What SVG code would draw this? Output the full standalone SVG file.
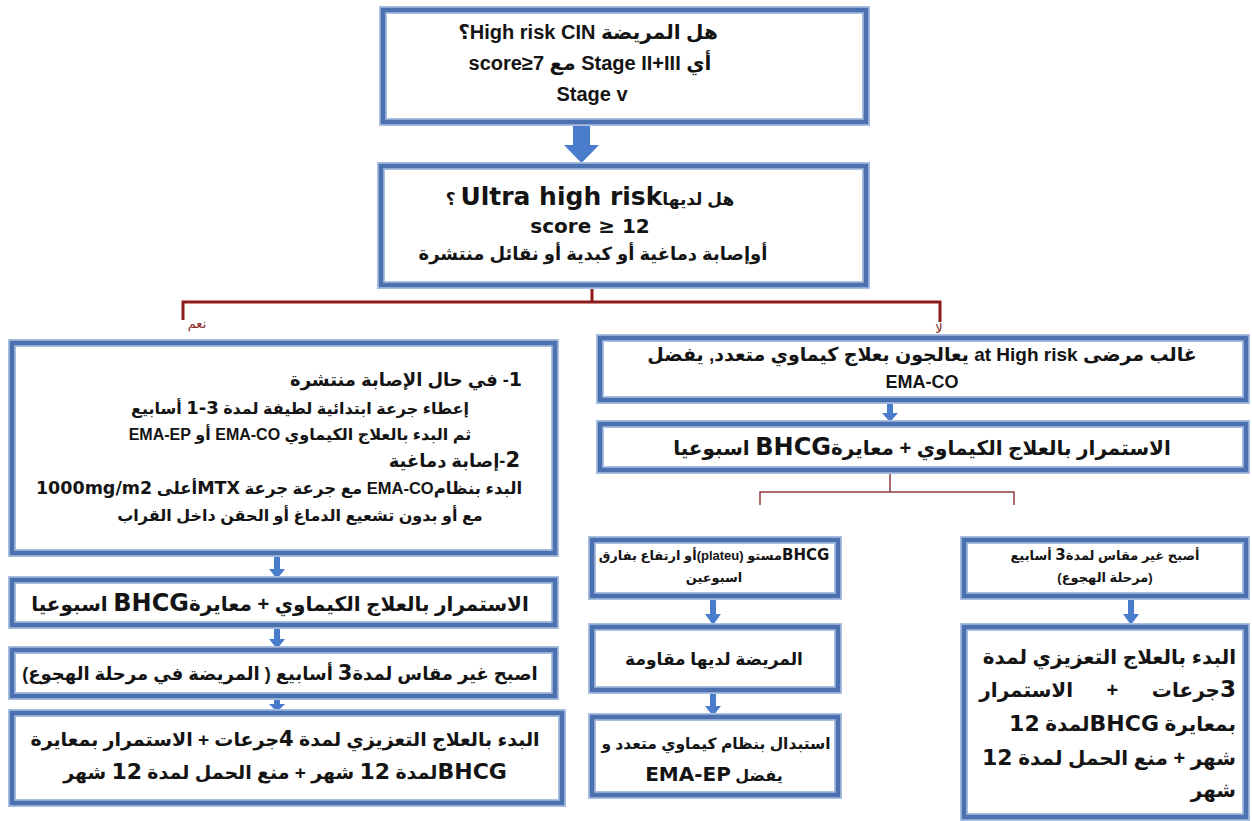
<svg xmlns="http://www.w3.org/2000/svg" width="1252" height="821" viewBox="0 0 1252 821">
  <defs>
    <style>
      .frame-out { fill: #ffffff; stroke: #a9bee0; stroke-width: 8; }
      .frame-in { fill: none; stroke: #4b71b1; stroke-width: 4.5; }
      .t { font-family: "Liberation Sans", "DejaVu Sans", sans-serif; font-weight: bold; fill: #141414; }
      .blk { font-family: "DejaVu Sans", "Liberation Sans", sans-serif; font-weight: bold; }
      .lab { font-family: "DejaVu Sans", "Liberation Sans", sans-serif; fill: #8b2a2a; font-size: 13px; }
      .arrow { fill: #4a7ccc; }
      .red { stroke: #8e1b1b; stroke-width: 3; fill: none; }
      .thin { stroke: #8e3c3c; stroke-width: 1.5; fill: none; }
    </style>
  </defs>
  <rect width="1252" height="821" fill="#ffffff"/>

  <!-- connectors: block arrows and branch lines -->
  <g id="connectors">
    <polygon class="arrow" points="573,124 590,124 590,145 599,145 581.5,163 564,145 573,145"/>
    <polyline class="red" points="592,285 592,302"/>
    <polyline class="red" points="183,320 183,302 940,302 940,322"/>
    <polygon class="arrow" points="274,556 280,556 280,569 285,569 277,579 269,569 274,569"/>
    <polygon class="arrow" points="274,627 280,627 280,639 285,639 277,649 269,639 274,639"/>
    <polygon class="arrow" points="274,697 280,697 280,704 285,704 277,712 269,704 274,704"/>
    <polygon class="arrow" points="887,402 893,402 893,413 898,413 890,422 882,413 887,413"/>
    <polyline class="thin" points="890,470 890,492"/>
    <polyline class="thin" points="760,505 760,492 1014,492 1014,505"/>
    <polygon class="arrow" points="710,598 716,598 716,614 721,614 713,625 705,614 710,614"/>
    <polygon class="arrow" points="1128,598 1134,598 1134,614 1139,614 1131,625 1123,614 1128,614"/>
    <polygon class="arrow" points="710,692 716,692 716,706 721,706 713,716 705,706 710,706"/>
    <text class="lab" x="197" y="328" text-anchor="middle" direction="rtl">نعم</text>
    <text class="lab" x="939" y="333" text-anchor="middle" direction="rtl">لا</text>
  </g>

  <!-- question: high risk -->
  <g id="q-high-risk">
    <rect class="frame-out" x="383" y="10" width="483" height="112"/>
    <rect class="frame-in" x="383" y="10" width="483" height="112"/>
    <text class="t" x="588" y="39" font-size="20" text-anchor="middle" direction="rtl">هل المريضة High risk CIN؟</text>
    <text class="t" x="590" y="70" font-size="20" text-anchor="middle" direction="rtl">أي   Stage II+III مع score≥7</text>
    <text class="t" x="592" y="101" font-size="20" text-anchor="middle">Stage v</text>
  </g>

  <!-- question: ultra high risk -->
  <g id="q-ultra-high-risk">
    <rect class="frame-out" x="381" y="166" width="485" height="119"/>
    <rect class="frame-in" x="381" y="166" width="485" height="119"/>
    <text class="t" x="590" y="205" font-size="17" text-anchor="middle" direction="rtl">هل لديها<tspan class="blk" font-size="25">Ultra high risk</tspan> ؟</text>
    <text class="t blk" x="590" y="233" font-size="20" text-anchor="middle">score ≥ 12</text>
    <text class="t" x="593" y="260" font-size="18" text-anchor="middle" direction="rtl">أوإصابة دماغية أو كبدية أو نقائل منتشرة</text>
  </g>

  <!-- yes branch -->
  <g id="yes-metastatic">
    <rect class="frame-out" x="12" y="343" width="543" height="210"/>
    <rect class="frame-in" x="12" y="343" width="543" height="210"/>
    <text class="t" x="522" y="386" font-size="18" text-anchor="start" direction="rtl"><tspan class="blk" font-size="19">1</tspan>- في حال الإصابة منتشرة</text>
    <text class="t" x="300" y="414" font-size="16" text-anchor="middle" direction="rtl">إعطاء جرعة ابتدائية لطيفة لمدة <tspan class="blk" font-size="18">3-1</tspan> أسابيع</text>
    <text class="t" x="300" y="440" font-size="16" text-anchor="middle" direction="rtl">ثم البدء بالعلاج الكيماوي EMA-CO  أو EMA-EP</text>
    <text class="t" x="520" y="467" font-size="18" text-anchor="start" direction="rtl"><tspan class="blk" font-size="21">2</tspan>-إصابة دماغية</text>
    <text class="t" x="279" y="494" font-size="16.5" text-anchor="middle" direction="rtl">البدء بنظامEMA-CO  مع جرعة جرعة <tspan class="blk" font-size="17.5">MTX</tspan>أعلى <tspan class="blk" font-size="17.5">1000mg/m2</tspan></text>
    <text class="t" x="300" y="521" font-size="16" text-anchor="middle" direction="rtl">مع أو بدون تشعيع الدماغ أو الحقن داخل القراب</text>
  </g>

  <g id="yes-continue">
    <rect class="frame-out" x="12" y="580" width="543" height="45"/>
    <rect class="frame-in" x="12" y="580" width="543" height="45"/>
    <text class="t" x="280" y="611" font-size="20" text-anchor="middle" direction="rtl">الاستمرار بالعلاج الكيماوي + معايرة<tspan class="blk" font-size="24">BHCG</tspan> اسبوعيا</text>
  </g>

  <g id="yes-remission">
    <rect class="frame-out" x="12" y="650" width="543" height="46"/>
    <rect class="frame-in" x="12" y="650" width="543" height="46"/>
    <text class="t" x="280" y="680" font-size="18" text-anchor="middle" direction="rtl">اصبح غير مقاس لمدة<tspan class="blk" font-size="21">3</tspan>  أسابيع ( المريضة في مرحلة الهجوع)</text>
  </g>

  <g id="yes-consolidation">
    <rect class="frame-out" x="12" y="713" width="550" height="90"/>
    <rect class="frame-in" x="12" y="713" width="550" height="90"/>
    <text class="t" x="285" y="746" font-size="19" text-anchor="middle" direction="rtl">البدء بالعلاج التعزيزي لمدة <tspan class="blk" font-size="21">4</tspan>جرعات + الاستمرار بمعايرة</text>
    <text class="t" x="285" y="779" font-size="19" text-anchor="middle" direction="rtl"><tspan class="blk" font-size="22">BHCG</tspan>لمدة <tspan class="blk" font-size="22">12</tspan> شهر + منع الحمل لمدة <tspan class="blk" font-size="22">12</tspan> شهر</text>
  </g>

  <!-- no branch -->
  <g id="no-polychemo">
    <rect class="frame-out" x="600" y="338" width="646" height="62"/>
    <rect class="frame-in" x="600" y="338" width="646" height="62"/>
    <text class="t" x="922" y="361" font-size="19" text-anchor="middle" direction="rtl">غالب مرضى at High risk يعالجون بعلاج كيماوي متعدد, يفضل</text>
    <text class="t" x="922" y="388" font-size="18" text-anchor="middle">EMA-CO</text>
  </g>

  <g id="no-continue">
    <rect class="frame-out" x="600" y="424" width="646" height="46"/>
    <rect class="frame-in" x="600" y="424" width="646" height="46"/>
    <text class="t" x="922" y="455" font-size="20" text-anchor="middle" direction="rtl">الاستمرار بالعلاج الكيماوي + معايرة<tspan class="blk" font-size="24">BHCG</tspan> اسبوعيا</text>
  </g>

  <g id="no-plateau">
    <rect class="frame-out" x="592" y="540" width="246" height="56"/>
    <rect class="frame-in" x="592" y="540" width="246" height="56"/>
    <text class="t" x="714" y="560" font-size="13" text-anchor="middle" direction="rtl"><tspan class="blk" font-size="15">BHCG</tspan>مستو (plateu)أو ارتفاع بفارق</text>
    <text class="t" x="714" y="582" font-size="13" text-anchor="middle" direction="rtl">اسبوعين</text>
  </g>

  <g id="no-resistance">
    <rect class="frame-out" x="592" y="627" width="246" height="63"/>
    <rect class="frame-in" x="592" y="627" width="246" height="63"/>
    <text class="t" x="714" y="665" font-size="17" text-anchor="middle" direction="rtl">المريضة لديها مقاومة</text>
  </g>

  <g id="no-switch">
    <rect class="frame-out" x="592" y="717" width="246" height="78"/>
    <rect class="frame-in" x="592" y="717" width="246" height="78"/>
    <text class="t" x="716" y="749" font-size="15.5" text-anchor="middle" direction="rtl">استبدال بنظام كيماوي متعدد و</text>
    <text class="t" x="714" y="781" font-size="16" text-anchor="middle" direction="rtl">يفضل  <tspan class="blk" font-size="20">EMA-EP</tspan></text>
  </g>

  <g id="no-remission">
    <rect class="frame-out" x="964" y="540" width="282" height="56"/>
    <rect class="frame-in" x="964" y="540" width="282" height="56"/>
    <text class="t" x="1105" y="560" font-size="13" text-anchor="middle" direction="rtl">أصبح غير مقاس لمدة<tspan class="blk" font-size="15">3</tspan> أسابيع</text>
    <text class="t" x="1105" y="582" font-size="13" text-anchor="middle" direction="rtl">(مرحلة الهجوع)</text>
  </g>

  <g id="no-consolidation">
    <rect class="frame-out" x="964" y="627" width="282" height="190"/>
    <rect class="frame-in" x="964" y="627" width="282" height="190"/>
    <text class="t" x="1236" y="664" font-size="20" text-anchor="start" direction="rtl">البدء بالعلاج التعزيزي لمدة</text>
    <text class="t" x="1236" y="697" font-size="20" word-spacing="28" text-anchor="start" direction="rtl"><tspan class="blk" font-size="23">3</tspan>جرعات + الاستمرار</text>
    <text class="t" x="1236" y="731" font-size="20" text-anchor="start" direction="rtl">بمعايرة <tspan class="blk" font-size="22">BHCG</tspan>لمدة <tspan class="blk" font-size="22">12</tspan></text>
    <text class="t" x="1236" y="765" font-size="20" text-anchor="start" direction="rtl">شهر + منع الحمل لمدة <tspan class="blk" font-size="22">12</tspan></text>
    <text class="t" x="1236" y="797" font-size="20" text-anchor="start" direction="rtl">شهر</text>
  </g>
</svg>
